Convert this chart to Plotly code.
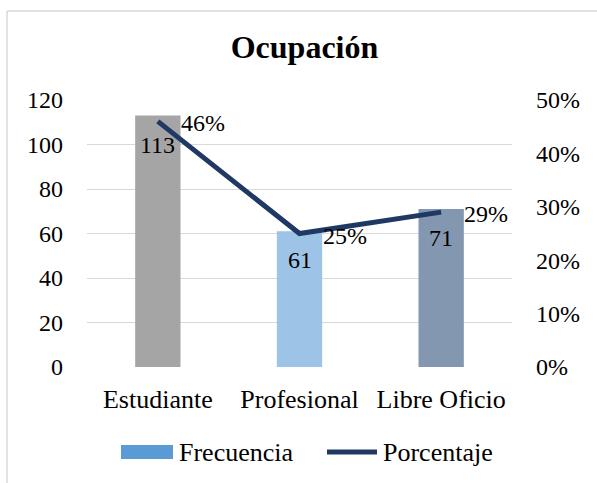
import plotly.graph_objects as go

# Ocupación: frequency (bars) and share (line)
categorias = ["Estudiante", "Profesional", "Libre Oficio"]
frecuencia = [113, 61, 71]
porcentaje = [0.46, 0.25, 0.29]
colores_barras = ["#A5A5A5", "#9DC3E6", "#8497B0"]
ticks_izq = [0, 20, 40, 60, 80, 100, 120]
ticks_der = [0, 0.1, 0.2, 0.3, 0.4, 0.5]

FONT = "Liberation Serif"
NUM = 24   # size for numeric text
TXT = 26   # size for word labels
W, H = 597, 483
L, R, T, B = 87, 85, 100, 116

pw, ph = W - L - R, H - T - B


def px(x):
    return (x - L) / pw


def py(y):
    return (H - B - y) / ph


fig = go.Figure()

fig.add_trace(go.Bar(
    x=categorias, y=frecuencia, name="Frecuencia",
    marker=dict(color=colores_barras, line=dict(width=0)),
    width=0.32, showlegend=False, yaxis="y",
))

fig.add_trace(go.Scatter(
    x=categorias, y=porcentaje, name="Porcentaje", mode="lines",
    line=dict(color="#203864", width=5), showlegend=False, yaxis="y2",
))

# value labels for the bars (inside, near the top)
for c, v in zip(categorias, frecuencia):
    fig.add_annotation(x=c, y=v, xref="x", yref="y", text=str(v),
                       showarrow=False, yanchor="top", yshift=-14,
                       font=dict(family=FONT, size=NUM, color="#000000"))

# value labels for the line (right of each point)
for c, p in zip(categorias, porcentaje):
    fig.add_annotation(x=c, y=p, xref="x", yref="y2", text=f"{round(p*100)}%",
                       showarrow=False, xanchor="left", yanchor="middle",
                       xshift=21, yshift=-2,
                       font=dict(family=FONT, size=NUM, color="#000000"))

# legend drawn by hand
fig.add_shape(type="rect", xref="paper", yref="paper",
              x0=px(121), x1=px(173), y0=py(459), y1=py(445),
              fillcolor="#5B9BD5", line=dict(width=0))
fig.add_annotation(x=px(177), y=py(452), xref="paper", yref="paper",
                   text="Frecuencia", showarrow=False, xanchor="left",
                   yanchor="middle", font=dict(family=FONT, size=TXT, color="#000000"))
fig.add_shape(type="line", xref="paper", yref="paper",
              x0=px(327), x1=px(377), y0=py(452), y1=py(452),
              line=dict(color="#203864", width=5))
fig.add_annotation(x=px(381), y=py(452), xref="paper", yref="paper",
                   text="Porcentaje", showarrow=False, xanchor="left",
                   yanchor="middle", font=dict(family=FONT, size=TXT, color="#000000"))

# chart frame (left and top edges)
fig.add_shape(type="line", xref="paper", yref="paper",
              x0=px(7), x1=px(7), y0=py(11), y1=py(490),
              line=dict(color="#D9D9D9", width=1.5))
fig.add_shape(type="line", xref="paper", yref="paper",
              x0=px(7), x1=px(600), y0=py(11), y1=py(11),
              line=dict(color="#D9D9D9", width=1.5))

fig.update_layout(
    width=W, height=H,
    margin=dict(l=L, r=R, t=T, b=B),
    paper_bgcolor="#FFFFFF", plot_bgcolor="#FFFFFF",
    font=dict(family=FONT, size=NUM, color="#000000"),
    title=dict(text="<b>Ocupación</b>", x=304.5 / W, xanchor="center",
               y=1 - 47 / H, yanchor="middle",
               font=dict(family=FONT, size=32, color="#000000")),
    bargap=0.68,
    showlegend=False,
    xaxis=dict(showgrid=False, zeroline=False, showline=False,
               ticks="", ticklabelstandoff=14,
               tickfont=dict(family=FONT, size=TXT, color="#000000")),
    yaxis=dict(range=[0, 120], tickvals=ticks_izq, showgrid=True,
               gridcolor="#D9D9D9", gridwidth=1, zeroline=False,
               showline=False, ticks="", ticklabelstandoff=23,
               tickfont=dict(family=FONT, size=NUM, color="#000000")),
    yaxis2=dict(range=[0, 0.5], tickvals=ticks_der, tickformat=".0%",
                overlaying="y", side="right", showgrid=False,
                zeroline=False, showline=False, ticks="",
                ticklabelstandoff=23,
                tickfont=dict(family=FONT, size=NUM, color="#000000")),
)

fig.write_html("out.html")
